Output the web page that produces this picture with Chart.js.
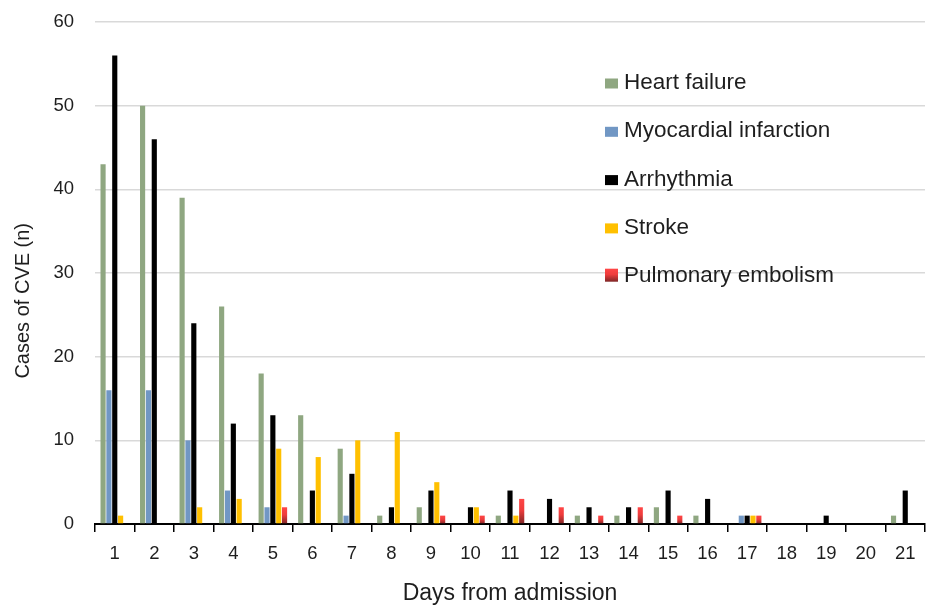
<!DOCTYPE html>
<html>
<head>
<meta charset="utf-8">
<script src="https://cdn.jsdelivr.net/npm/chart.js@4.4.1/dist/chart.umd.min.js"></script>
<style>
  html, body { margin: 0; padding: 0; background: #ffffff; }
  #wrap { width: 928px; height: 606px; }
</style>
</head>
<body>
<div id="wrap"><canvas id="c" width="928" height="606"></canvas></div>
<script>
// ---- Data ----
const days = ['1','2','3','4','5','6','7','8','9','10','11','12','13','14','15','16','17','18','19','20','21'];
const seriesNames = ['Heart failure', 'Myocardial infarction', 'Arrhythmia', 'Stroke', 'Pulmonary embolism'];
const heartFailure        = [43, 50, 39, 26, 18, 13, 9, 1, 2, 0, 1, 0, 1, 1, 2, 1, 0, 0, 0, 0, 1];
const myocardialInfarct   = [16, 16, 10, 4, 2, 0, 1, 0, 0, 0, 0, 0, 0, 0, 0, 0, 1, 0, 0, 0, 0];
const arrhythmia          = [56, 46, 24, 12, 13, 4, 6, 2, 4, 2, 4, 3, 2, 2, 4, 3, 1, 0, 1, 0, 4];
const stroke              = [1, 0, 2, 3, 9, 8, 10, 11, 5, 2, 1, 0, 0, 0, 0, 0, 1, 0, 0, 0, 0];
const pulmonaryEmbolism   = [0, 0, 0, 0, 2, 0, 0, 0, 1, 1, 3, 2, 1, 2, 1, 0, 1, 0, 0, 0, 0];
const yTicks = [0, 10, 20, 30, 40, 50, 60];

const xTitle = 'Days from admission';
const yTitle = 'Cases of CVE (n)';

// ---- Styles ----
const colors = ['#8FA781', '#7197C4', '#000000', '#FFC000', '#F24040'];
const FONT = "'Liberation Sans', Arial, sans-serif";
const TEXT = '#1e1e1e';

function peGradient(c, yTop, yBot) {
  const g = c.createLinearGradient(0, yTop, 0, yBot);
  g.addColorStop(0, '#FF4646');
  g.addColorStop(0.45, '#EE3C3C');
  g.addColorStop(1, '#7E2626');
  return g;
}

function peFill(ctx) {
  const chart = ctx.chart;
  const ys = chart.scales && chart.scales.y;
  if (!ys || !chart.chartArea || ctx.type !== 'data') return colors[4];
  const v = ctx.raw || 0;
  const top = ys.getPixelForValue(v);
  const bot = ys.getPixelForValue(0);
  if (!isFinite(top) || !isFinite(bot) || bot - top < 1) return colors[4];
  return peGradient(chart.ctx, top, bot);
}

const seriesData = [heartFailure, myocardialInfarct, arrhythmia, stroke, pulmonaryEmbolism];

const datasets = seriesNames.map((name, i) => ({
  label: name,
  data: seriesData[i],
  backgroundColor: i === 4 ? peFill : colors[i],
  borderWidth: 0,
  categoryPercentage: 0.74,
  barPercentage: 0.88
}));

// Custom legend drawn inside the plot area (as in the reference)
const insideLegend = {
  id: 'insideLegend',
  afterDatasetsDraw(chart) {
    const c = chart.ctx;
    const x0 = 605, boxW = 13, boxH = 10, gap = 48.3;
    const firstBottom = 88.5;
    c.save();
    c.font = '22.5px ' + FONT;
    c.textBaseline = 'alphabetic';
    c.textAlign = 'left';
    chart.data.datasets.forEach((ds, i) => {
      const bottom = firstBottom + i * gap;
      if (i === 4) {
        c.fillStyle = peGradient(c, bottom - 13, bottom);
        c.fillRect(x0, bottom - 13, boxW, 13);
      } else {
        c.fillStyle = colors[i];
        c.fillRect(x0, bottom - boxH, boxW, boxH);
      }
      c.fillStyle = TEXT;
      c.fillText(ds.label, x0 + 19, bottom + 0.5);
    });
    c.restore();
  }
};

new Chart(document.getElementById('c'), {
  type: 'bar',
  data: { labels: days, datasets },
  plugins: [insideLegend],
  options: {
    responsive: false,
    devicePixelRatio: 1,
    animation: false,
    layout: { padding: { top: 22, right: 3, left: 0, bottom: 0 } },
    plugins: {
      legend: { display: false },
      tooltip: { enabled: false },
      title: { display: false }
    },
    scales: {
      x: {
        offset: true,
        grid: {
          offset: true,
          drawOnChartArea: false,
          drawTicks: true,
          tickLength: 8,
          color: '#000000',
          lineWidth: 1.5
        },
        border: { display: true, color: '#000000', width: 2 },
        ticks: {
          color: TEXT,
          font: { family: FONT, size: 18.5 },
          padding: 11,
          maxRotation: 0,
          autoSkip: false
        },
        title: {
          display: true,
          text: xTitle,
          color: TEXT,
          font: { family: FONT, size: 23, lineHeight: 1 },
          padding: { top: 0, bottom: 1 }
        },
        afterFit(scale) { scale.height = 82; }
      },
      y: {
        min: yTicks[0],
        max: yTicks[yTicks.length - 1],
        afterBuildTicks(scale) { scale.ticks = yTicks.map(v => ({ value: v })); },
        grid: {
          drawTicks: true,
          tickLength: 21,
          tickColor: 'rgba(0,0,0,0)',
          color: '#d9d9d9',
          lineWidth: 1.5
        },
        border: { display: false },
        ticks: {
          color: TEXT,
          font: { family: FONT, size: 18.5 },
          padding: 0
        },
        title: {
          display: true,
          text: yTitle + '          ',
          color: TEXT,
          font: { family: FONT, size: 20, lineHeight: 1.2 },
          padding: { top: 11, bottom: 0 }
        },
        afterFit(scale) { scale.width = 95; }
      }
    }
  }
});
</script>
</body>
</html>
